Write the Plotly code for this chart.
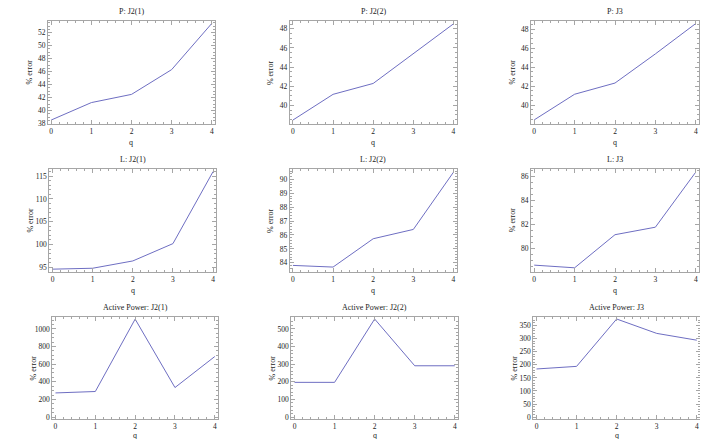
import plotly.graph_objects as go

W, H = 708, 439

q = [0, 1, 2, 3, 4]

titles = ["P: J2(1)", "P: J2(2)", "P: J3",
          "L: J2(1)", "L: J2(2)", "L: J3",
          "Active Power: J2(1)", "Active Power: J2(2)", "Active Power: J3"]

p_j21 = [38.56, 41.24, 42.5, 46.3, 53.4]
p_j22 = [38.45, 41.14, 42.28, 45.4, 48.52]
p_j3 = [38.45, 41.15, 42.33, 45.4, 48.6]
l_j21 = [94.6, 94.8, 96.4, 100.2, 116.0]
l_j22 = [83.81, 83.69, 85.73, 86.4, 90.52]
l_j3 = [78.63, 78.41, 81.15, 81.77, 86.33]
ap_j21 = [274, 290, 1111, 335, 687]
ap_j22 = [197, 197, 556, 291, 291]
ap_j3 = [184, 194, 375, 320, 294]

series = [p_j21, p_j22, p_j3, l_j21, l_j22, l_j3, ap_j21, ap_j22, ap_j3]

y_ranges = [[38.0, 53.75], [38.07, 48.8], [38.05, 48.85],
            [94.05, 116.6], [83.36, 90.76], [78.09, 86.6],
            [-19, 1130], [-9.4, 565], [-6.3, 381]]
y_major = [2, 2, 2, 5, 1, 2, 200, 100, 50]
y_minor = [0.5, 0.5, 0.5, 1, 0.2, 0.5, 50, 20, 10]

# frame pixel boxes: left, right, top, bottom
boxes = [(40, 207, 13.3, 117), (281.7, 448.7, 13.3, 117), (523, 691, 13.3, 117),
         (41.3, 208.3, 162.7, 266.7), (281.7, 448.7, 162.7, 266.7), (523, 691, 162.7, 266.7),
         (44.3, 210, 313, 415.5), (283.3, 450, 313, 415.5), (525.3, 692, 313, 415.5)]
q_label_y = [136.5, 136.5, 136.5, 286, 286, 286, 432.5, 432.5, 432.5]

FONT = "Liberation Serif"
LINE = "#6e6ec2"
FRAME = "#a6a6a6"
TEXT = "#222222"

fig = go.Figure()
annotations = []
layout = {}
for i in range(9):
    n = "" if i == 0 else str(i + 1)
    l, r, t, b = boxes[i]
    xd = [l / W, r / W]
    yd = [1 - b / H, 1 - t / H]
    fig.add_trace(go.Scatter(x=q, y=series[i], mode="lines",
                             line=dict(color=LINE, width=1),
                             xaxis="x" + n, yaxis="y" + n, showlegend=False,
                             hoverinfo="x+y"))
    common = dict(showline=True, linecolor=FRAME, linewidth=1, mirror="ticks",
                  ticks="inside", ticklen=4, tickcolor=FRAME, tickwidth=1,
                  showgrid=False, zeroline=False,
                  tickfont=dict(family=FONT, size=7.5, color=TEXT))
    layout["xaxis" + n] = dict(domain=xd, anchor="y" + n, range=[-0.08, 4.08],
                               tick0=0, dtick=1,
                               minor=dict(ticks="inside", ticklen=2, tickcolor=FRAME, dtick=0.2, tick0=0),
                               **common)
    layout["yaxis" + n] = dict(domain=yd, anchor="x" + n, range=y_ranges[i],
                               tick0=0, dtick=y_major[i],
                               minor=dict(ticks="inside", ticklen=2, tickcolor=FRAME,
                                          dtick=y_minor[i], tick0=0),
                               **common)
    cx = (l + r) / 2 / W
    annotations.append(dict(text=titles[i], x=cx, y=1 - (t - 3) / H, xref="paper", yref="paper",
                            xanchor="center", yanchor="bottom", showarrow=False,
                            font=dict(family=FONT, size=8, color=TEXT)))
    annotations.append(dict(text="q", x=cx, y=1 - q_label_y[i] / H, xref="paper", yref="paper",
                            xanchor="center", yanchor="middle", showarrow=False,
                            font=dict(family=FONT, size=8, color=TEXT)))
    annotations.append(dict(text="% error", x=(l - 19) / W, y=1 - (t + b) / 2 / H,
                            xref="paper", yref="paper", textangle=-90,
                            xanchor="center", yanchor="middle", showarrow=False,
                            font=dict(family=FONT, size=8, color=TEXT)))

fig.update_layout(width=W, height=H, margin=dict(l=0, r=0, t=0, b=0),
                  paper_bgcolor="white", plot_bgcolor="white",
                  annotations=annotations, **layout)

fig.write_html("out.html")
